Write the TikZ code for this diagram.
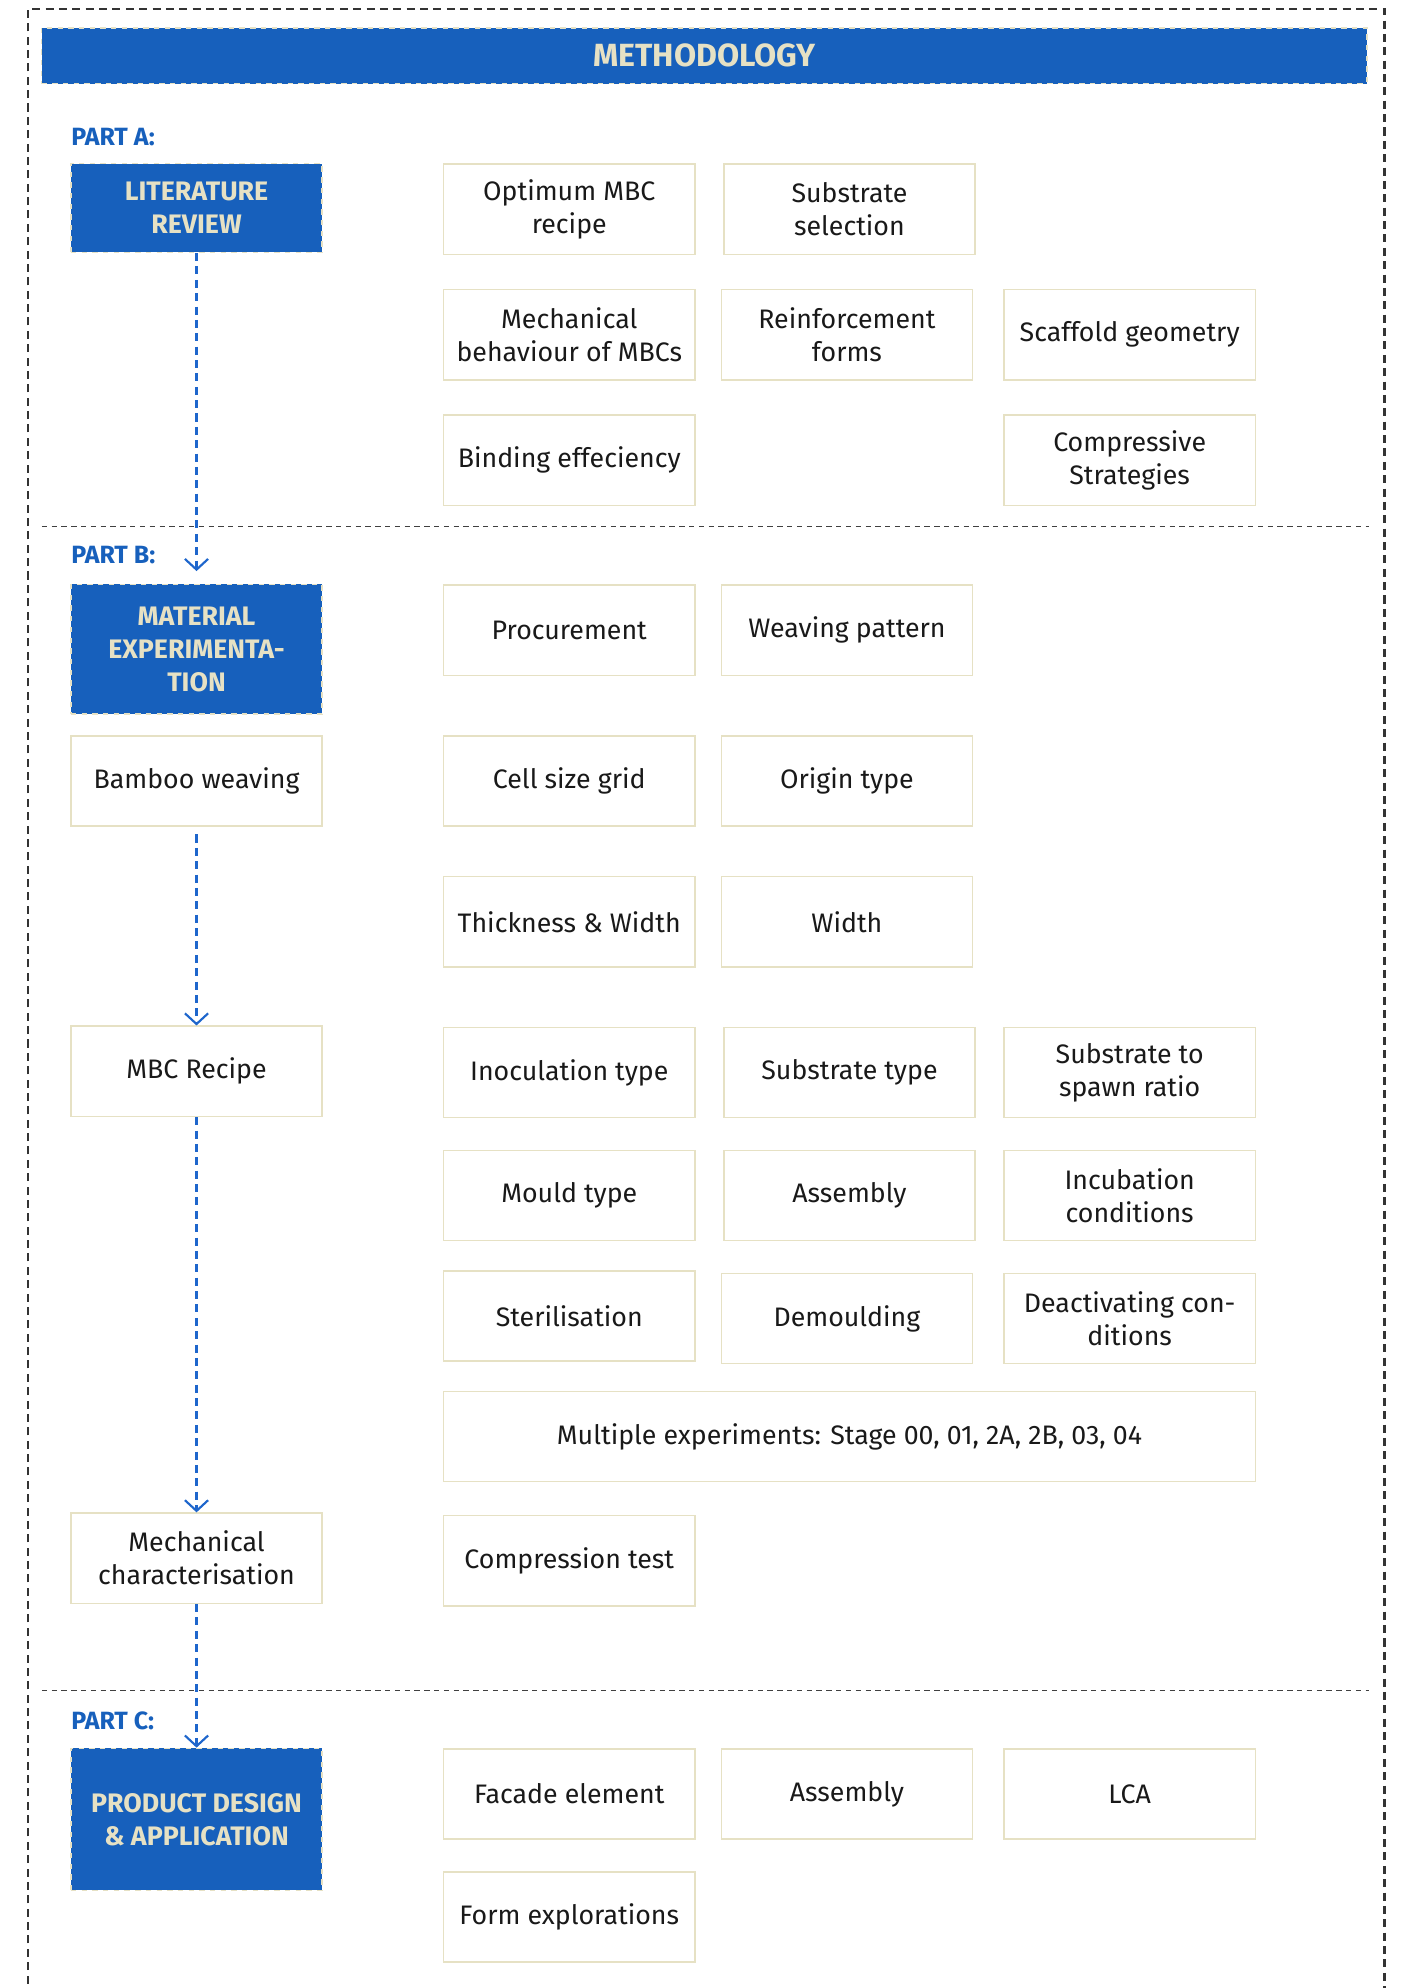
\documentclass[tikz,border=0pt]{standalone}
\usepackage{fontspec}
\setmainfont{Fira Sans}
\usetikzlibrary{arrows.meta}
\definecolor{mblue}{HTML}{1760BC}
\definecolor{cream}{HTML}{E6E1C4}
\definecolor{ablue}{HTML}{1E66CC}

\begin{document}
\begin{tikzpicture}[x=0.025cm,y=-0.025cm,
  item/.style={draw=cream,line width=0.8pt,fill=white,minimum width=4.95cm,minimum height=1.78cm,
    align=center,inner sep=2pt,text=black!90,font=\fontsize{15}{18.5}\selectfont},
  head/.style={item,fill=mblue,dashed,text=cream,font=\fontsize{15}{18.5}\selectfont\bfseries},
  part/.style={anchor=west,inner sep=0pt,text=mblue,font=\fontsize{14}{16}\selectfont\bfseries},
  flow/.style={->,>={Straight Barb[length=6pt,width=13pt,line width=1.2pt]},ablue,line width=1.3pt,dash pattern=on 4.5pt off 3pt},
  sep/.style={black!75,line width=0.6pt,dash pattern=on 3pt off 2.5pt}]
  \useasboundingbox (0,0) rectangle (1105,1568);
  \draw[black!80,line width=1.2pt,dash pattern=on 4.5pt off 3pt] (22,1575)--(22,7)--(1092,7)--(1092,1575);
  \node[head,minimum width=26.125cm,minimum height=1.1cm,font=\fontsize{18}{20}\selectfont\bfseries] (title) at (555.5,44) {METHODOLOGY};

  % part A
  \node[part] (parta) at (56,108) {PART A:};
  \node[head,minimum height=1.75cm] (lit) at (155,164) {LITERATURE\\REVIEW};
  \node[item] (optimum) at (449,165) {Optimum MBC\\recipe};
  \node[item] (subsel) at (670,165) {Substrate\\selection};
  \node[item] (mechbeh) at (449,264) {Mechanical\\behaviour of MBCs};
  \node[item] (reinf) at (668,264) {Reinforcement\\forms};
  \node[item] (scaffold) at (891,264) {Scaffold geometry};
  \node[item] (binding) at (449,363) {Binding effeciency};
  \node[item] (compstr) at (891,363) {Compressive\\Strategies};
  \draw[sep] (33,415)--(1080,415);

  % part B
  \node[part] (partb) at (56,438) {PART B:};
  \node[head,minimum height=2.55cm] (matexp) at (155,512) {MATERIAL\\EXPERIMENTA-\\TION};
  \node[item] (procure) at (449,497) {Procurement};
  \node[item] (weave) at (668,497) {Weaving pattern};
  \node[item] (bamboo) at (155,616) {Bamboo weaving};
  \node[item] (cellsize) at (449,616) {Cell size grid};
  \node[item] (origin) at (668,616) {Origin type};
  \node[item] (thick) at (449,727) {Thickness \& Width};
  \node[item] (width) at (668,727) {Width};
  \node[item] (mbc) at (155,845) {MBC Recipe};
  \node[item] (inoc) at (449,846) {Inoculation type};
  \node[item] (subtype) at (670,846) {Substrate type};
  \node[item] (ratio) at (891,846) {Substrate to\\spawn ratio};
  \node[item] (mould) at (449,943) {Mould type};
  \node[item] (assemb) at (670,943) {Assembly};
  \node[item] (incub) at (891,943) {Incubation\\conditions};
  \node[item] (steril) at (449,1038) {Sterilisation};
  \node[item] (demould) at (668,1040) {Demoulding};
  \node[item] (deact) at (891,1040) {Deactivating con-\\ditions};
  \node[item,minimum width=16cm] (multi) at (670,1133) {Multiple experiments: Stage 00, 01, 2A, 2B, 03, 04};
  \node[item] (mech) at (155,1229) {Mechanical\\characterisation};
  \node[item] (comptest) at (449,1231) {Compression test};
  \draw[sep] (33,1333)--(1080,1333);

  % part C
  \node[part] (partc) at (56,1357) {PART C:};
  \node[head,minimum height=2.8cm] (prod) at (155,1435) {PRODUCT DESIGN\\\& APPLICATION};
  \node[item] (facade) at (449,1415) {Facade element};
  \node[item] (assembc) at (668,1415) {Assembly};
  \node[item] (lca) at (891,1415) {LCA};
  \node[item] (formexp) at (449,1512) {Form explorations};

  \draw[flow,shorten >=0.25cm] (lit) -- (matexp);
  \draw[flow,shorten <=0.15cm] (bamboo) -- (mbc);
  \draw[flow] (mbc) -- (mech);
  \draw[flow] (mech) -- (prod);
\end{tikzpicture}
\end{document}
